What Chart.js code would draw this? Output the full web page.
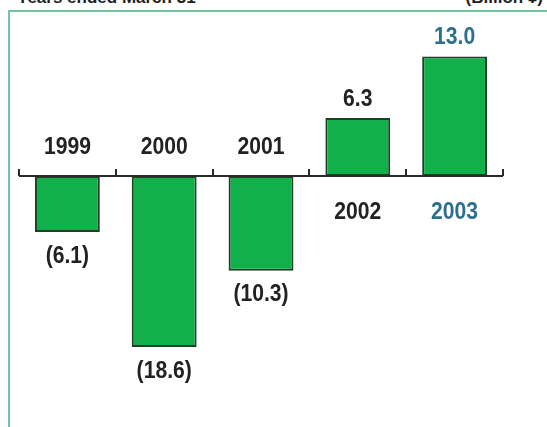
<!DOCTYPE html>
<html>
<head>
<meta charset="utf-8">
<script src="https://cdn.jsdelivr.net/npm/chart.js@4/dist/chart.umd.min.js"></script>
<style>
  html, body { margin: 0; padding: 0; background: #fff; }
  #wrap { position: relative; width: 547px; height: 427px; overflow: hidden; font-family: "Liberation Sans", Arial, sans-serif; }
  .frame { position: absolute; left: 8px; top: 10px; right: -6px; bottom: -6px; border-left: 2.5px solid #74c29f; border-top: 2.5px solid #74c29f; }
  .head { position: absolute; top: -12px; font-size: 17px; font-weight: bold; color: #1e1e1e; white-space: nowrap; }
  #chart { position: absolute; left: 0; top: 0; }
</style>
</head>
<body>
<div id="wrap">
  <div class="frame"></div>
  <div class="head" style="left:17px">Years ended March 31</div>
  <div class="head" style="right:4px">(Billion ¥)</div>
  <canvas id="chart" width="547" height="427"></canvas>
</div>
<script>
const years = ['1999', '2000', '2001', '2002', '2003'];
const netIncome = [-6.1, -18.6, -10.3, 6.3, 13.0];
const yMin = -26;
const yMax = 17;

const TEXT = '#222222';
const HIGHLIGHT = '#2c6f8e';
const LABEL_FONT = 'bold 24px "Liberation Sans", Arial, sans-serif';

function fmt(v) {
    const s = Math.abs(v).toFixed(1);
    return v < 0 ? '(' + s + ')' : s;
}

// slightly condensed label text
function label(ctx, text, x, y) {
    ctx.save();
    ctx.translate(x, y);
    ctx.scale(0.88, 1);
    ctx.fillText(text, 0, 0);
    ctx.restore();
}

// zero line with small upward ticks between categories, plus year and value labels
const barLabels = {
    id: 'barLabels',
    afterDatasetsDraw(chart) {
        const { ctx, scales: { x, y } } = chart;
        const y0 = y.getPixelForValue(0);
        ctx.save();
        ctx.strokeStyle = '#2a2a2a';
        ctx.lineWidth = 2;
        ctx.beginPath();
        ctx.moveTo(x.left, y0);
        ctx.lineTo(x.right, y0);
        for (let i = 0; i <= years.length; i++) {
            const px = Math.round(x.getPixelForValue(i - 0.5));
            ctx.moveTo(px, y0);
            ctx.lineTo(px, y0 - 7);
        }
        ctx.stroke();

        ctx.font = LABEL_FONT;
        ctx.textAlign = 'center';
        ctx.textBaseline = 'middle';
        const meta = chart.getDatasetMeta(0);
        meta.data.forEach((bar, i) => {
            const v = netIncome[i];
            ctx.fillStyle = i === years.length - 1 ? HIGHLIGHT : TEXT;
            if (v >= 0) {
                label(ctx, fmt(v), bar.x, bar.y - 19);
                label(ctx, years[i], bar.x, y0 + 36);
            } else {
                label(ctx, fmt(v), bar.x, bar.y + 24);
                label(ctx, years[i], bar.x, y0 - 29);
            }
        });
        ctx.restore();
    }
};

new Chart(document.getElementById('chart'), {
    type: 'bar',
    data: {
        labels: years,
        datasets: [{
            data: netIncome,
            backgroundColor: '#12b04b',
            borderColor: '#1d3f26',
            borderWidth: 2,
            borderSkipped: false,
            barPercentage: 0.67,
            categoryPercentage: 1
        }]
    },
    options: {
        responsive: false,
        animation: false,
        layout: { padding: { left: 19, right: 44, top: 19.6, bottom: 11.8 } },
        plugins: { legend: { display: false }, tooltip: { enabled: false } },
        scales: {
            x: { display: false },
            y: { display: false, min: yMin, max: yMax }
        }
    },
    plugins: [barLabels]
});
</script>
</body>
</html>
